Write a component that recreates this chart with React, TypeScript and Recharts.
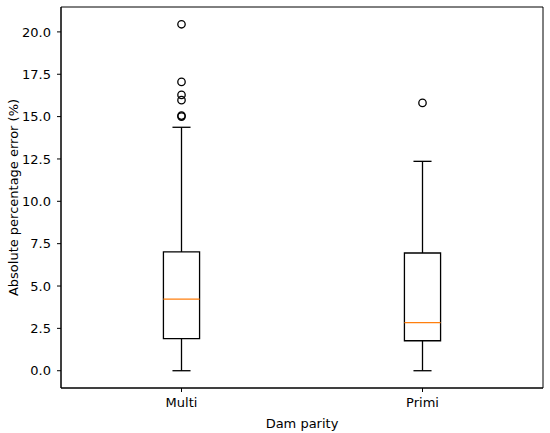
import { ScatterChart, Scatter, XAxis, YAxis, ReferenceArea, ReferenceLine } from "recharts";

// box plot summaries
const categories = ["Multi", "Primi"];
const positions = [1, 2];
const whiskerLow = [0, 0];
const q1 = [1.89, 1.77];
const median = [4.23, 2.84];
const q3 = [7.01, 6.95];
const whiskerHigh = [14.37, 12.36];
const outliers = [
  [20.45, 17.05, 16.28, 15.97, 15.06, 15.0],
  [15.81],
];
const yTicks = [0, 2.5, 5, 7.5, 10, 12.5, 15, 17.5, 20];

const BOX_HALF = 0.075;
const CAP_HALF = 0.0375;
const FONT = "DejaVu Sans, sans-serif";
const FS = 13;
const LW = 1.3;

const outlierPoints = outliers.flatMap((vals, i) => vals.map((y) => ({ x: positions[i], y })));

const Ring = (props: any) => (
  <circle cx={props.cx} cy={props.cy} r={3.7} fill="none" stroke="#000" strokeWidth={LW} />
);

export default function App() {
  return (
    <div style={{ position: "absolute", left: 0, top: 0, background: "#fff" }}>
      <ScatterChart width={550} height={433} margin={{ top: 7, right: 7, bottom: 0, left: 0 }}>
        <XAxis
          type="number"
          dataKey="x"
          domain={[0.5, 2.5]}
          ticks={positions}
          tickFormatter={(v) => categories[v - 1]}
          height={45}
          tickSize={4}
          tickMargin={6}
          stroke="#000"
          tick={{ fill: "#000", fontSize: FS, fontFamily: FONT }}
          allowDataOverflow
          label={{
            content: (p: any) => (
              <text
                x={p.viewBox.x + p.viewBox.width / 2}
                y={p.viewBox.y + 35}
                textAnchor="middle"
                dominantBaseline="central"
                fontSize={FS}
                fontFamily={FONT}
                fill="#000"
              >
                Dam parity
              </text>
            ),
          }}
        />
        <YAxis
          type="number"
          dataKey="y"
          domain={[-1.02, 21.47]}
          ticks={yTicks}
          tickFormatter={(v) => v.toFixed(1)}
          width={61}
          tickSize={4}
          tickMargin={6}
          stroke="#000"
          tick={{ fill: "#000", fontSize: FS, fontFamily: FONT }}
          allowDataOverflow
          label={{
            content: (p: any) => {
              const x = p.viewBox.x + 13;
              const y = p.viewBox.y + p.viewBox.height / 2;
              return (
                <text
                  x={x}
                  y={y}
                  transform={`rotate(-90 ${x} ${y})`}
                  textAnchor="middle"
                  dominantBaseline="central"
                  fontSize={FS}
                  fontFamily={FONT}
                  fill="#000"
                >
                  Absolute percentage error (%)
                </text>
              );
            },
          }}
        />
        <ReferenceArea x1={0.5} x2={2.5} y1={-1.02} y2={21.47} fill="none" stroke="#000" strokeWidth={1} />
        {positions.map((p, i) => (
          <ReferenceLine key={`wl${i}`} segment={[{ x: p, y: whiskerLow[i] }, { x: p, y: q1[i] }]} stroke="#000" strokeWidth={LW} />
        ))}
        {positions.map((p, i) => (
          <ReferenceLine key={`wh${i}`} segment={[{ x: p, y: q3[i] }, { x: p, y: whiskerHigh[i] }]} stroke="#000" strokeWidth={LW} />
        ))}
        {positions.map((p, i) => (
          <ReferenceLine key={`cl${i}`} segment={[{ x: p - CAP_HALF, y: whiskerLow[i] }, { x: p + CAP_HALF, y: whiskerLow[i] }]} stroke="#000" strokeWidth={LW} />
        ))}
        {positions.map((p, i) => (
          <ReferenceLine key={`ch${i}`} segment={[{ x: p - CAP_HALF, y: whiskerHigh[i] }, { x: p + CAP_HALF, y: whiskerHigh[i] }]} stroke="#000" strokeWidth={LW} />
        ))}
        {positions.map((p, i) => (
          <ReferenceArea key={`box${i}`} x1={p - BOX_HALF} x2={p + BOX_HALF} y1={q1[i]} y2={q3[i]} fill="none" stroke="#000" strokeWidth={LW} />
        ))}
        {positions.map((p, i) => (
          <ReferenceLine key={`med${i}`} segment={[{ x: p - BOX_HALF, y: median[i] }, { x: p + BOX_HALF, y: median[i] }]} stroke="#ff7f0e" strokeWidth={LW} />
        ))}
        <Scatter data={outlierPoints} shape={<Ring />} isAnimationActive={false} />
      </ScatterChart>
    </div>
  );
}
